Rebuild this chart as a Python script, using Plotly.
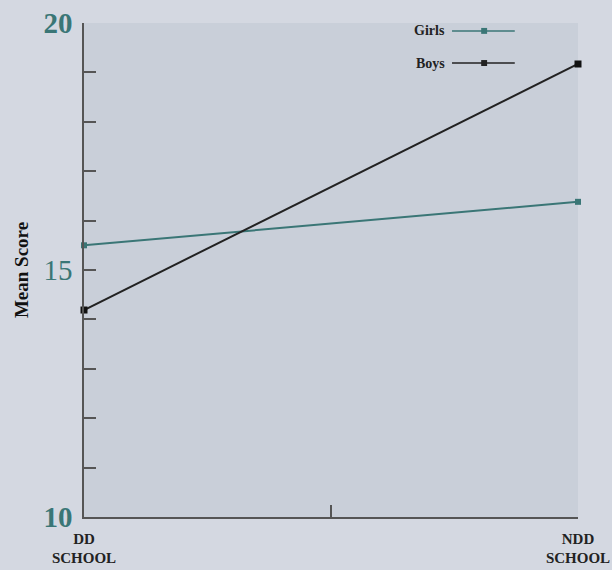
import plotly.graph_objects as go

categories = ["DD<br>SCHOOL", "NDD<br>SCHOOL"]
cat_pos = [0, 1]
girls = [15.5, 16.38]
boys = [14.19, 19.17]
y_ticks = list(range(10, 21))
y_labels = ["<b>10</b>", "", "", "", "", "15", "", "", "", "", "<b>20</b>"]

teal = "#3a7676"
dark = "#222222"
serif = "Liberation Serif, Times New Roman, serif"

fig = go.Figure()
fig.add_trace(go.Scatter(x=cat_pos, y=girls, mode="lines+markers", name="Girls",
                         line=dict(color=teal, width=2), marker=dict(color=teal, size=6, symbol="square"),
                         cliponaxis=False, showlegend=False))
fig.add_trace(go.Scatter(x=cat_pos, y=boys, mode="lines+markers", name="Boys",
                         line=dict(color=dark, width=2), marker=dict(color="#111111", size=7, symbol="square"),
                         cliponaxis=False, showlegend=False))

# manual legend (text left of sample line)
legend_items = [("Girls", teal, 0.984), ("Boys", dark, 0.919)]
for name, col, yy in legend_items:
    fig.add_annotation(x=0.735, y=yy, xref="paper", yref="paper", text="<b>" + name + "</b>",
                       showarrow=False, xanchor="right", yanchor="middle",
                       font=dict(family=serif, size=14, color="#222222"))
    fig.add_shape(type="line", xref="paper", yref="paper", x0=0.745, x1=0.872, y0=yy, y1=yy,
                  line=dict(color=col, width=1.5))
    fig.add_shape(type="rect", xref="paper", yref="paper", x0=0.81 - 0.006, x1=0.81 + 0.006,
                  y0=yy - 0.006, y1=yy + 0.006, fillcolor=col, line=dict(width=0))

fig.update_layout(
    width=612, height=570,
    margin=dict(l=84, r=34, t=23, b=53),
    paper_bgcolor="#d4d8e1",
    plot_bgcolor="#c9cfd9",
    font=dict(family=serif, color="#222222"),
    xaxis=dict(range=[0, 1], tickvals=[0, 0.5, 1], ticktext=["<b>DD<br>SCHOOL</b>", "", "<b>NDD<br>SCHOOL</b>"],
               ticks="inside", ticklen=12, tickcolor="#555555", tickwidth=1.5, ticklabelstandoff=7,
               showline=True, linecolor="#555555", linewidth=1.5, showgrid=False, zeroline=False,
               tickfont=dict(family=serif, size=15, color="#222222"), automargin=False),
    yaxis=dict(range=[10, 20], tickvals=y_ticks, ticktext=y_labels,
               ticks="inside", ticklen=12, tickcolor="#555555", tickwidth=1.5, ticklabelstandoff=4,
               showline=True, linecolor="#555555", linewidth=1.5, showgrid=False, zeroline=False,
               tickfont=dict(family=serif, size=29, color=teal), automargin=False,
               title=dict(text="<b>Mean Score</b>", font=dict(family=serif, size=19, color="#111111"), standoff=10)),
)

fig.write_html("out.html", config={"displayModeBar": False},
               post_script="document.body.style.margin='0';document.body.style.background='#d4d8e1';")
